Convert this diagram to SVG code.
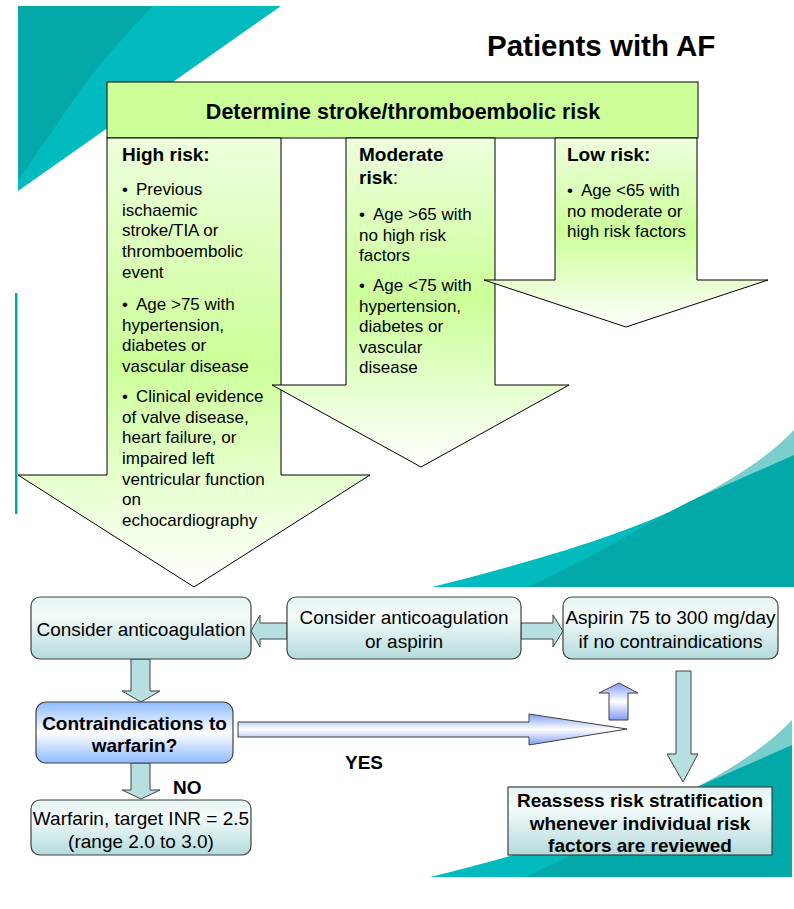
<svg xmlns="http://www.w3.org/2000/svg" width="794" height="909" viewBox="0 0 794 909">
<style>
text{font-family:"Liberation Sans",Arial,sans-serif;fill:#000}
.b{font-weight:bold}
.t17{font-size:17px}
.t19{font-size:19px}
.risk{stroke:#000;stroke-width:1}
.box{stroke:#404040;stroke-width:1.2}
.tealarrow{fill:#B8DFE0;stroke:#404040;stroke-width:1}
.bluearrow{stroke:#404040;stroke-width:1}
</style>
<defs>
<linearGradient id="gGreen" x1="0" y1="0" x2="0" y2="1">
<stop offset="0" stop-color="#EEFFDD"/>
<stop offset="0.5" stop-color="#CCFF99"/>
<stop offset="1" stop-color="#FFFFFF"/>
</linearGradient>
<linearGradient id="gTeal" x1="0" y1="0" x2="0" y2="1">
<stop offset="0" stop-color="#E4F3F3"/>
<stop offset="0.3" stop-color="#F6FBFB"/>
<stop offset="1" stop-color="#B3DBDC"/>
</linearGradient>
<linearGradient id="gBlue" x1="0" y1="0" x2="0" y2="1">
<stop offset="0" stop-color="#8DBBFF"/>
<stop offset="0.5" stop-color="#FFFFFF"/>
<stop offset="1" stop-color="#8DBBFF"/>
</linearGradient>
<linearGradient id="gBlueArrow" x1="0" y1="0" x2="0" y2="1">
<stop offset="0" stop-color="#7F9CF5"/>
<stop offset="0.5" stop-color="#FFFFFF"/>
<stop offset="1" stop-color="#7F9CF5"/>
</linearGradient>
<g id="swoosh">
<path d="M432,587 C540,560 640,530 699,497 L699,587 Z" fill="#02BBBE"/>
<path d="M699,497 C740,475 770,455 794,430 L794,587 L699,587 Z" fill="#7ACECE"/>
<path d="M527,587 C600,555 660,515 699,497 L794,455 L794,587 Z" fill="#02A9A9"/>
</g>
</defs>

<g id="background">
<path d="M18,6 L281,6 L18,191 Z" fill="#02BBBE"/>
<path d="M18,6 L153,6 C120,40 85,80 60,120 L18,180 Z" fill="#02A9A8"/>
<rect x="15" y="293" width="2.5" height="221" fill="#02A9A8"/>
<use href="#swoosh"/>
<use href="#swoosh" transform="translate(-2,290)"/>
</g>

<g id="title">
<text x="487" y="56" class="b" style="font-size:29.5px">Patients with AF</text>
</g>

<g id="header">
<rect x="107" y="82" width="591" height="56" fill="#CCFF99" stroke="#000" stroke-width="1"/>
<text x="403" y="119" class="b" text-anchor="middle" style="font-size:21.5px">Determine stroke/thromboembolic risk</text>
</g>

<g id="high-risk">
<path class="risk" fill="url(#gGreen)" d="M107,138 H281 V475 H370 L194,587 L18,475 H107 Z"/>
<text class="t19 b" x="122" y="161">High risk:</text>
<text class="t17"><tspan x="122" y="195">•</tspan><tspan x="136" y="195">Previous</tspan><tspan x="122" y="215.7">ischaemic</tspan><tspan x="122" y="236.3">stroke/TIA or</tspan><tspan x="122" y="257">thromboembolic</tspan><tspan x="122" y="277.6">event</tspan></text>
<text class="t17"><tspan x="122" y="310">•</tspan><tspan x="136" y="310">Age &gt;75 with</tspan><tspan x="122" y="330.7">hypertension,</tspan><tspan x="122" y="351.3">diabetes or</tspan><tspan x="122" y="372">vascular disease</tspan></text>
<text class="t17"><tspan x="122" y="402">•</tspan><tspan x="136" y="402">Clinical evidence</tspan><tspan x="122" y="422.6">of valve disease,</tspan><tspan x="122" y="443.3">heart failure, or</tspan><tspan x="122" y="464">impaired left</tspan><tspan x="122" y="484.6">ventricular function</tspan><tspan x="122" y="505.2">on</tspan><tspan x="122" y="526">echocardiography</tspan></text>
</g>

<g id="moderate-risk">
<path class="risk" fill="url(#gGreen)" d="M346,138 H495 V385 H569 L421,467 L272,385 H346 Z"/>
<text class="t19 b" x="359" y="161">Moderate</text>
<text class="t19" x="359" y="184"><tspan class="b">risk</tspan>:</text>
<text class="t17"><tspan x="359" y="220">•</tspan><tspan x="373" y="220">Age &gt;65 with</tspan><tspan x="359" y="240.6">no high risk</tspan><tspan x="359" y="261.2">factors</tspan></text>
<text class="t17"><tspan x="359" y="291">•</tspan><tspan x="373" y="291">Age &lt;75 with</tspan><tspan x="359" y="311.6">hypertension,</tspan><tspan x="359" y="332.2">diabetes or</tspan><tspan x="359" y="352.8">vascular</tspan><tspan x="359" y="373.4">disease</tspan></text>
</g>

<g id="low-risk">
<path class="risk" fill="url(#gGreen)" d="M555,138 H697 V280 H768 L626,327 L484,280 H555 Z"/>
<text class="t19 b" x="567" y="161">Low risk:</text>
<text class="t17"><tspan x="567" y="196">•</tspan><tspan x="581" y="196">Age &lt;65 with</tspan><tspan x="567" y="216.6">no moderate or</tspan><tspan x="567" y="237.2">high risk factors</tspan></text>
</g>

<g id="connectors">
<path class="tealarrow" d="M287,623 H260 V615 L251,631 L260,647 V639 H287 Z"/>
<path class="tealarrow" d="M521,623 H553 V615 L563,631 L553,647 V639 H521 Z"/>
<path class="tealarrow" d="M131,659 H150 V691 H160 L141,702 L122,691 H131 Z"/>
<path class="tealarrow" d="M131,763 H150 V790 H160 L141,799 L122,790 H131 Z"/>
<path class="tealarrow" d="M676,671 H691 V754 H698 L683,782 L667,754 H676 Z"/>
<path class="bluearrow" fill="url(#gBlueArrow)" d="M238,722 H529 V714 L627,729 L529,745 V737 H238 Z"/>
<path class="bluearrow" fill="url(#gBlueArrow)" d="M609,720 V693 H599 L619,683 L638,693 H628 V720 Z"/>
<text class="t19 b" x="173" y="794">NO</text>
<text class="t19 b" x="345" y="769">YES</text>
</g>

<g id="consider-anticoagulation">
<rect class="box" x="31" y="597" width="220" height="62" rx="9" fill="url(#gTeal)"/>
<text class="t19" x="141" y="636" text-anchor="middle">Consider anticoagulation</text>
</g>

<g id="consider-anticoagulation-or-aspirin">
<rect class="box" x="287" y="597" width="234" height="62" rx="9" fill="url(#gTeal)"/>
<text class="t19" text-anchor="middle"><tspan x="404" y="624">Consider anticoagulation</tspan><tspan x="404" y="648">or aspirin</tspan></text>
</g>

<g id="aspirin">
<rect class="box" x="563" y="597" width="215" height="62" rx="9" fill="url(#gTeal)"/>
<text class="t19" text-anchor="middle"><tspan x="670.5" y="624">Aspirin 75 to 300 mg/day</tspan><tspan x="670.5" y="648">if no contraindications</tspan></text>
</g>

<g id="contraindications">
<rect class="box" x="36" y="702" width="197" height="61" rx="10" fill="url(#gBlue)"/>
<text class="t19 b" text-anchor="middle"><tspan x="134.5" y="730">Contraindications to</tspan><tspan x="134.5" y="752">warfarin?</tspan></text>
</g>

<g id="warfarin">
<rect class="box" x="31" y="800" width="220" height="55" rx="9" fill="url(#gTeal)"/>
<text class="t19" text-anchor="middle"><tspan x="141" y="825">Warfarin, target INR = 2.5</tspan><tspan x="141" y="848">(range 2.0 to 3.0)</tspan></text>
</g>

<g id="reassess">
<rect class="box" x="508" y="787" width="264" height="68" fill="url(#gTeal)"/>
<text class="t19 b" text-anchor="middle"><tspan x="640" y="807">Reassess risk stratification</tspan><tspan x="640" y="830">whenever individual risk</tspan><tspan x="640" y="852">factors are reviewed</tspan></text>
</g>
</svg>
